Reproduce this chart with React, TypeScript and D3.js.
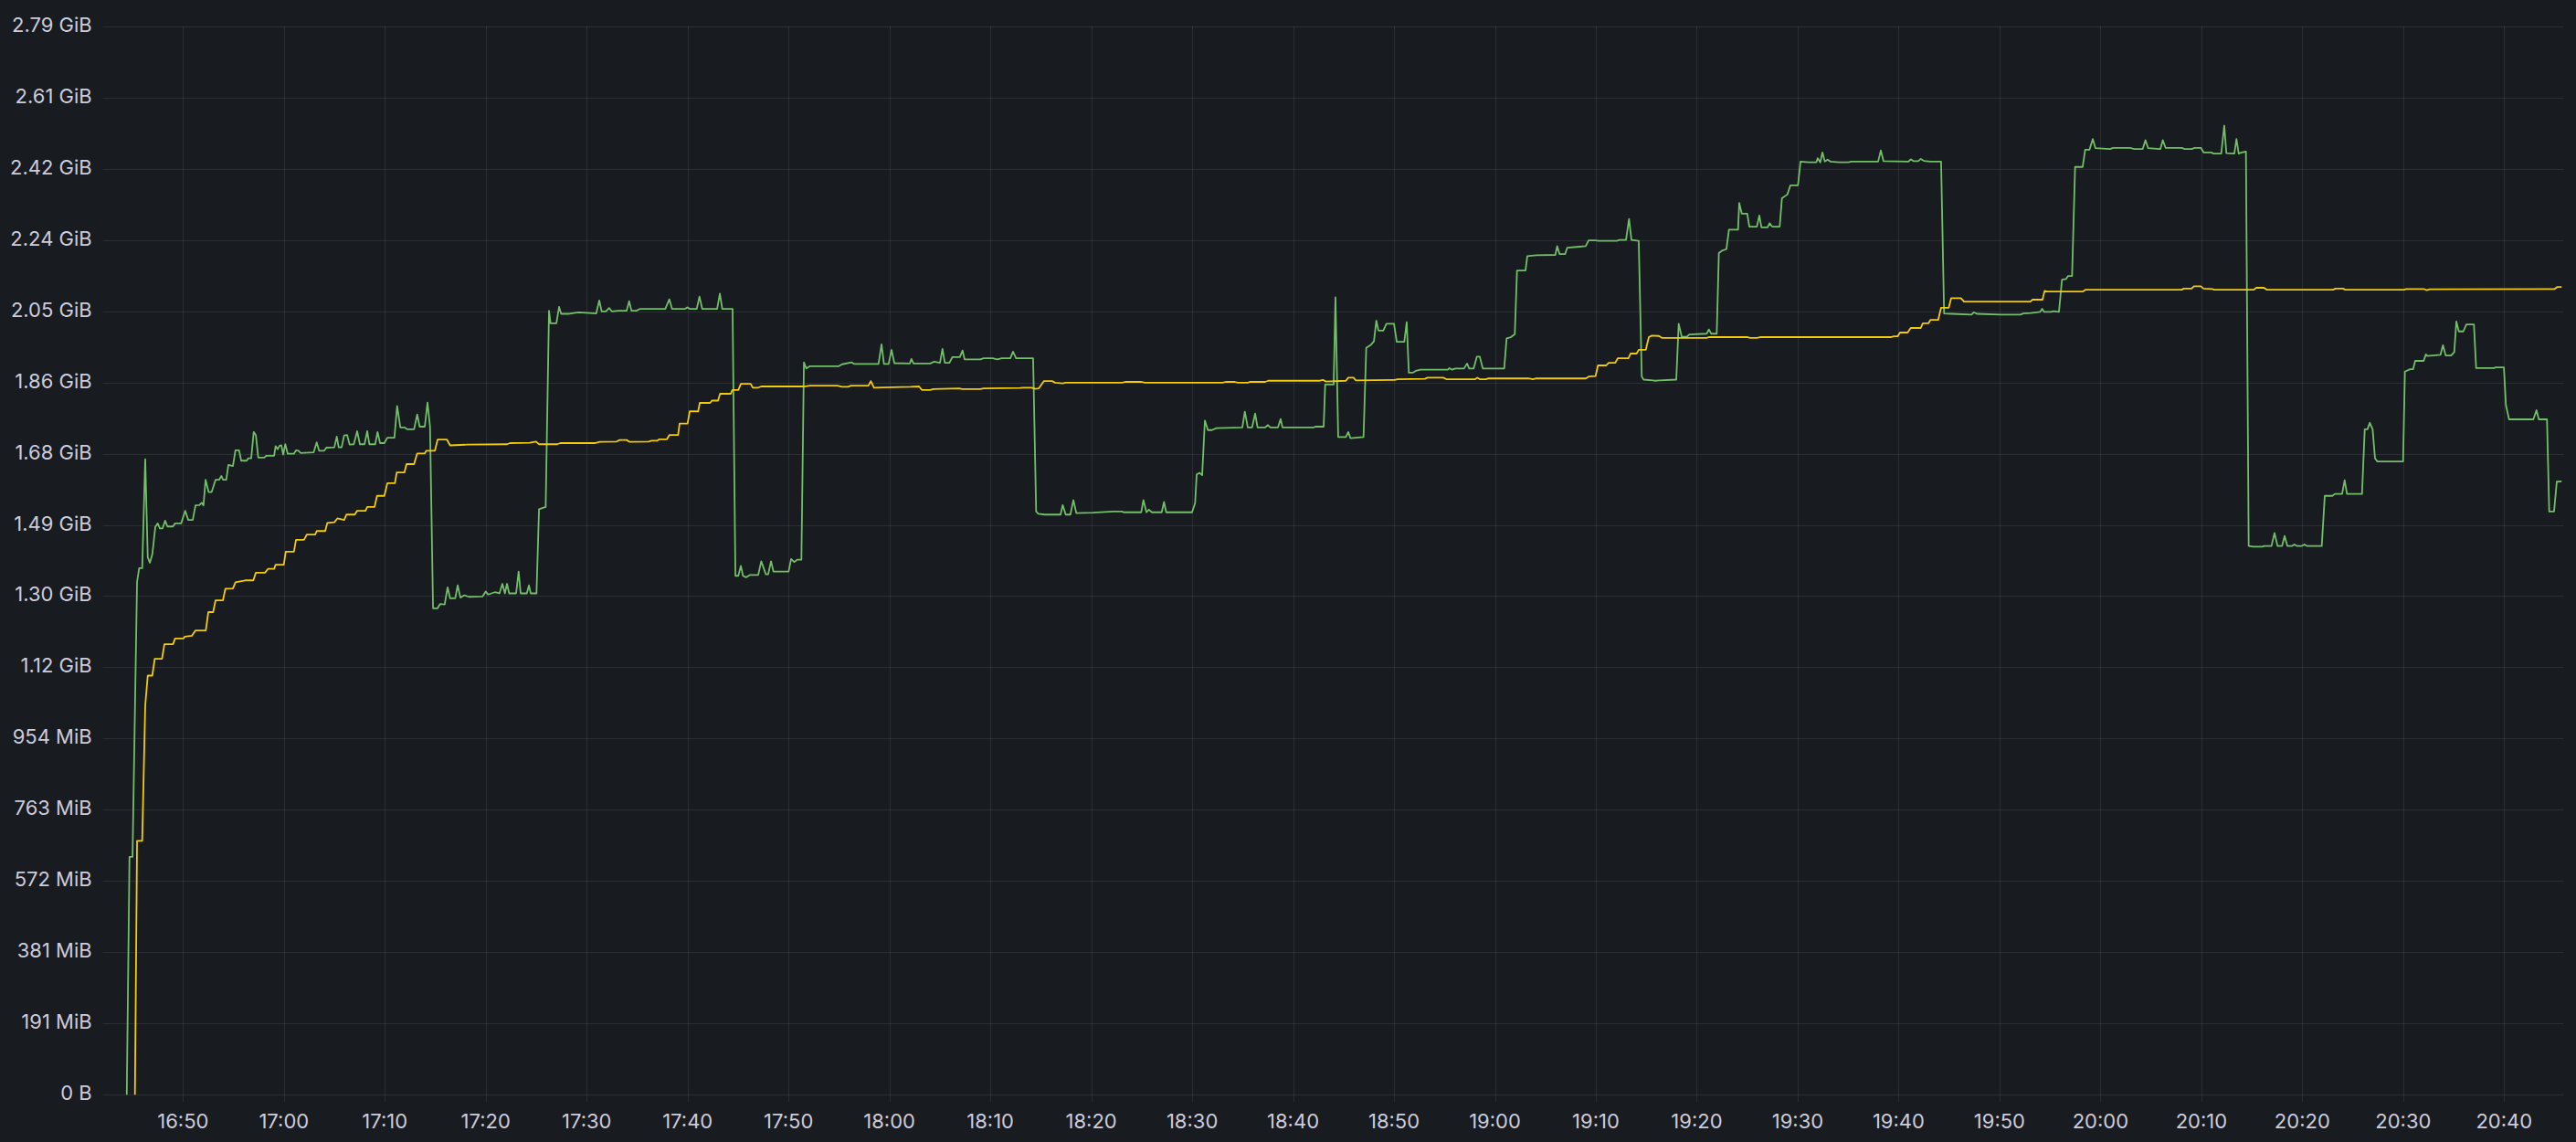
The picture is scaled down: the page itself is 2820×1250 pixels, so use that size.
import React, { useEffect, useRef } from 'react';
import * as d3 from 'd3';

// memory usage panel, two series, 16:42 -> 20:46
// all times are minutes after 16:40, all values in GiB
const GIB = 1073741824;
const BASE_HOUR = 16;
const BASE_MIN = 40;

const timeRange = [2.07, 245.92];

const xTickLabels = [
    "16:50", "17:00", "17:10", "17:20", "17:30", "17:40", "17:50", "18:00",
    "18:10", "18:20", "18:30", "18:40", "18:50", "19:00", "19:10", "19:20",
    "19:30", "19:40", "19:50", "20:00", "20:10", "20:20", "20:30", "20:40",
];

// one tick every 200 MB, labelled in binary units
const yTickStep = 2e8;
const yTickLabels = [
    "0 B", "191 MiB", "381 MiB", "572 MiB", "763 MiB", "954 MiB", "1.12 GiB", "1.30 GiB",
    "1.49 GiB", "1.68 GiB", "1.86 GiB", "2.05 GiB", "2.24 GiB", "2.42 GiB", "2.61 GiB", "2.79 GiB",
];

const greenSeries: [number, number][] = [
    [4.43, 0], [4.70, 0.622], [5.00, 0.622], [5.45, 1.341], [5.66, 1.377], [5.96, 1.377], [6.26, 1.662], [6.51, 1.405],
    [6.72, 1.391], [6.96, 1.413], [7.26, 1.485], [7.50, 1.494], [7.71, 1.481], [7.98, 1.481], [8.23, 1.501], [8.46, 1.486],
    [9.01, 1.486], [9.22, 1.494], [9.82, 1.494], [10.22, 1.527], [10.52, 1.503], [10.97, 1.503], [11.24, 1.541], [11.63, 1.542],
    [11.85, 1.548], [12.03, 1.541], [12.24, 1.608], [12.54, 1.576], [12.84, 1.576], [13.23, 1.608], [13.60, 1.608], [13.80, 1.618],
    [13.98, 1.608], [14.29, 1.608], [14.50, 1.647], [14.95, 1.644], [15.20, 1.685], [15.56, 1.685], [15.77, 1.658], [16.31, 1.658],
    [16.46, 1.664], [16.76, 1.664], [17.01, 1.733], [17.22, 1.725], [17.46, 1.666], [18.06, 1.666], [18.27, 1.671], [19.03, 1.671],
    [19.18, 1.696], [19.39, 1.688], [19.57, 1.697], [19.75, 1.698], [19.93, 1.674], [20.14, 1.701], [20.38, 1.676], [20.99, 1.676],
    [21.20, 1.685], [21.44, 1.684], [21.68, 1.678], [22.95, 1.680], [23.25, 1.706], [23.49, 1.684], [24.00, 1.684], [24.21, 1.692],
    [25.00, 1.693], [25.24, 1.721], [25.43, 1.693], [25.72, 1.693], [25.97, 1.724], [26.27, 1.725], [26.51, 1.700], [26.93, 1.701],
    [27.26, 1.735], [27.53, 1.701], [27.99, 1.701], [28.26, 1.735], [28.47, 1.701], [29.05, 1.701], [29.28, 1.733], [29.53, 1.704],
    [29.95, 1.704], [30.25, 1.718], [30.95, 1.718], [31.22, 1.801], [31.54, 1.745], [31.94, 1.745], [32.24, 1.740], [32.90, 1.740],
    [33.21, 1.779], [33.45, 1.747], [33.96, 1.747], [34.23, 1.810], [34.48, 1.747], [34.78, 1.272], [35.23, 1.272], [35.47, 1.283],
    [35.93, 1.282], [36.22, 1.327], [36.47, 1.298], [36.98, 1.298], [37.22, 1.332], [37.49, 1.300], [37.88, 1.306], [38.33, 1.302],
    [39.69, 1.303], [40.00, 1.316], [40.23, 1.308], [40.90, 1.314], [41.36, 1.311], [41.65, 1.336], [41.90, 1.311], [42.11, 1.336],
    [42.32, 1.311], [43.01, 1.311], [43.26, 1.368], [43.46, 1.311], [44.07, 1.311], [44.28, 1.332], [44.46, 1.311], [45.03, 1.311],
    [45.28, 1.531], [45.94, 1.537], [46.27, 2.050], [46.42, 2.017], [47.00, 2.017], [47.27, 2.060], [47.47, 2.042], [48.29, 2.042],
    [49.19, 2.046], [50.95, 2.043], [51.25, 2.077], [51.49, 2.048], [51.91, 2.048], [52.22, 2.057], [52.52, 2.048], [53.12, 2.050],
    [53.96, 2.050], [54.21, 2.075], [54.44, 2.050], [54.93, 2.050], [55.30, 2.055], [57.79, 2.055], [58.19, 2.080], [58.46, 2.055],
    [59.76, 2.055], [60.00, 2.059], [60.21, 2.055], [60.91, 2.055], [61.18, 2.087], [61.45, 2.055], [62.93, 2.055], [63.20, 2.095],
    [63.44, 2.055], [64.46, 2.055], [64.74, 1.357], [65.03, 1.357], [65.28, 1.383], [65.49, 1.357], [65.79, 1.353], [66.16, 1.359],
    [67.00, 1.359], [67.30, 1.395], [67.75, 1.361], [67.99, 1.361], [68.27, 1.395], [68.51, 1.368], [70.01, 1.368], [70.26, 1.401],
    [70.56, 1.393], [70.86, 1.399], [71.28, 1.399], [71.53, 1.915], [71.77, 1.899], [72.13, 1.905], [74.99, 1.905], [75.30, 1.910],
    [76.26, 1.915], [76.50, 1.911], [78.92, 1.911], [79.22, 1.962], [79.46, 1.911], [79.92, 1.911], [80.21, 1.948], [80.49, 1.913],
    [82.02, 1.912], [82.18, 1.924], [82.39, 1.912], [84.04, 1.912], [84.44, 1.917], [85.01, 1.914], [85.26, 1.950], [85.49, 1.914],
    [85.94, 1.914], [86.25, 1.929], [86.98, 1.929], [87.25, 1.946], [87.45, 1.923], [89.02, 1.923], [89.33, 1.926], [90.23, 1.926],
    [90.69, 1.923], [91.14, 1.926], [91.98, 1.926], [92.25, 1.943], [92.55, 1.926], [94.24, 1.926], [94.54, 1.525], [94.76, 1.519],
    [95.36, 1.517], [96.96, 1.517], [97.17, 1.542], [97.47, 1.517], [97.93, 1.517], [98.23, 1.555], [98.52, 1.521], [100.19, 1.522],
    [102.15, 1.525], [103.05, 1.525], [103.20, 1.523], [104.95, 1.523], [105.17, 1.555], [105.47, 1.523], [105.71, 1.530], [106.01, 1.523],
    [106.98, 1.523], [107.21, 1.550], [107.43, 1.523], [109.99, 1.523], [110.29, 1.547], [110.45, 1.622], [110.74, 1.626], [110.99, 1.620],
    [111.26, 1.763], [111.56, 1.738], [111.96, 1.738], [112.41, 1.743], [114.97, 1.745], [115.22, 1.786], [115.51, 1.745], [115.94, 1.745],
    [116.24, 1.781], [116.48, 1.745], [117.23, 1.745], [117.51, 1.751], [117.75, 1.745], [118.50, 1.745], [118.77, 1.767], [118.95, 1.745],
    [122.06, 1.745], [122.21, 1.747], [123.03, 1.747], [123.18, 1.857], [124.02, 1.857], [124.20, 2.085], [124.47, 1.720], [125.23, 1.720],
    [125.47, 1.733], [125.68, 1.717], [126.98, 1.720], [127.25, 1.953], [127.71, 1.961], [128.01, 1.970], [128.25, 2.024], [128.46, 1.998],
    [128.94, 1.998], [129.25, 2.016], [130.00, 2.016], [130.27, 1.969], [131.02, 1.969], [131.26, 2.020], [131.47, 1.888], [131.87, 1.888],
    [132.17, 1.893], [132.62, 1.896], [135.34, 1.896], [135.49, 1.900], [135.73, 1.896], [136.09, 1.899], [136.94, 1.899], [137.24, 1.912],
    [137.45, 1.899], [137.90, 1.899], [138.21, 1.930], [138.50, 1.930], [138.80, 1.899], [140.92, 1.899], [141.16, 1.978], [141.58, 1.981],
    [141.97, 1.989], [142.19, 2.155], [143.03, 2.155], [143.21, 2.193], [144.09, 2.195], [145.99, 2.196], [146.17, 2.219], [146.41, 2.198],
    [146.95, 2.198], [147.17, 2.215], [148.16, 2.217], [149.00, 2.219], [149.28, 2.234], [149.97, 2.234], [150.27, 2.233], [152.08, 2.233],
    [152.33, 2.235], [152.99, 2.235], [153.29, 2.290], [153.53, 2.235], [154.25, 2.233], [154.55, 1.878], [154.73, 1.870], [155.64, 1.868],
    [155.86, 1.867], [156.31, 1.868], [157.97, 1.870], [158.21, 2.016], [158.51, 1.982], [159.02, 1.982], [159.26, 1.988], [160.98, 1.990],
    [161.20, 2.001], [161.43, 1.990], [161.98, 1.990], [162.19, 2.201], [162.49, 2.207], [162.94, 2.211], [163.19, 2.262], [164.09, 2.262],
    [164.21, 2.332], [164.46, 2.304], [165.00, 2.304], [165.21, 2.270], [165.96, 2.270], [166.20, 2.299], [166.41, 2.268], [167.02, 2.268],
    [167.22, 2.279], [167.47, 2.270], [168.22, 2.270], [168.44, 2.344], [168.98, 2.354], [169.28, 2.378], [170.03, 2.378], [170.28, 2.440],
    [171.09, 2.438], [171.84, 2.438], [171.99, 2.449], [172.24, 2.438], [172.45, 2.464], [172.69, 2.440], [172.96, 2.445], [173.26, 2.440],
    [174.10, 2.438], [175.01, 2.438], [175.32, 2.440], [177.97, 2.440], [178.24, 2.469], [178.51, 2.441], [180.98, 2.440], [181.20, 2.446],
    [181.50, 2.441], [181.95, 2.441], [182.20, 2.447], [182.50, 2.442], [183.15, 2.440], [184.21, 2.440], [184.51, 2.043], [185.27, 2.042],
    [187.23, 2.040], [187.45, 2.046], [187.75, 2.042], [190.10, 2.040], [191.30, 2.040], [192.06, 2.040], [192.36, 2.043], [193.11, 2.044],
    [194.02, 2.047], [194.23, 2.055], [194.41, 2.047], [195.08, 2.047], [195.37, 2.049], [195.89, 2.047], [196.19, 2.131], [196.59, 2.133],
    [196.80, 2.141], [197.19, 2.141], [197.49, 2.426], [198.24, 2.426], [198.49, 2.471], [198.91, 2.471], [199.24, 2.499], [199.51, 2.475],
    [200.96, 2.473], [201.26, 2.476], [202.92, 2.476], [203.38, 2.473], [204.19, 2.473], [204.46, 2.496], [204.73, 2.475], [205.94, 2.473],
    [206.18, 2.496], [206.45, 2.476], [208.05, 2.476], [208.35, 2.473], [209.04, 2.473], [209.35, 2.476], [209.95, 2.476], [210.22, 2.464],
    [210.98, 2.464], [211.21, 2.461], [211.97, 2.461], [212.27, 2.534], [212.48, 2.462], [213.27, 2.461], [213.48, 2.499], [213.70, 2.461],
    [213.99, 2.464], [214.42, 2.466], [214.69, 1.435], [215.14, 1.433], [216.05, 1.433], [216.19, 1.435], [216.95, 1.435], [217.25, 1.469],
    [217.55, 1.435], [218.00, 1.435], [218.25, 1.461], [218.52, 1.435], [219.00, 1.435], [219.22, 1.439], [219.45, 1.435], [219.97, 1.435],
    [220.21, 1.439], [220.45, 1.435], [221.93, 1.435], [222.23, 1.566], [222.98, 1.566], [223.23, 1.571], [223.95, 1.571], [224.20, 1.607],
    [224.43, 1.571], [225.92, 1.571], [226.19, 1.740], [226.46, 1.740], [226.69, 1.757], [226.97, 1.740], [227.21, 1.664], [227.45, 1.656],
    [229.99, 1.656], [230.17, 1.891], [230.68, 1.897], [230.98, 1.897], [231.19, 1.919], [232.03, 1.919], [232.25, 1.936], [232.40, 1.932],
    [233.70, 1.935], [233.94, 1.960], [234.21, 1.933], [234.75, 1.933], [235.06, 1.942], [235.27, 2.022], [235.51, 1.996], [235.96, 1.996],
    [236.26, 2.014], [237.01, 2.014], [237.23, 1.900], [238.98, 1.900], [239.18, 1.902], [239.98, 1.902], [240.18, 1.803], [240.49, 1.766],
    [242.90, 1.766], [243.21, 1.790], [243.44, 1.766], [244.25, 1.766], [244.47, 1.525], [244.95, 1.525], [245.22, 1.603], [245.70, 1.604],
];

const yellowSeries: [number, number][] = [
    [5.24, 0], [5.45, 0.664], [5.96, 0.664], [6.26, 1.018], [6.51, 1.096], [6.96, 1.096], [7.20, 1.140], [7.92, 1.140],
    [8.16, 1.178], [9.01, 1.178], [9.22, 1.193], [10.04, 1.193], [10.18, 1.198], [10.88, 1.200], [11.24, 1.214], [12.26, 1.214],
    [12.51, 1.262], [12.99, 1.262], [13.23, 1.293], [13.96, 1.293], [14.20, 1.323], [14.95, 1.324], [15.20, 1.340], [15.56, 1.342],
    [16.16, 1.345], [16.97, 1.345], [17.22, 1.365], [18.12, 1.365], [18.42, 1.375], [19.03, 1.375], [19.18, 1.386], [19.99, 1.386],
    [20.18, 1.420], [20.99, 1.420], [21.20, 1.451], [21.99, 1.451], [22.28, 1.465], [23.10, 1.465], [23.25, 1.474], [24.09, 1.474],
    [24.30, 1.495], [25.00, 1.497], [25.30, 1.507], [25.97, 1.503], [26.20, 1.517], [27.02, 1.517], [27.26, 1.527], [28.08, 1.527],
    [28.26, 1.537], [28.98, 1.537], [29.23, 1.566], [29.95, 1.566], [30.25, 1.599], [31.00, 1.599], [31.18, 1.627], [31.94, 1.627],
    [32.15, 1.649], [32.90, 1.649], [33.21, 1.677], [33.96, 1.677], [34.11, 1.684], [34.96, 1.684], [35.23, 1.713], [36.16, 1.713],
    [36.47, 1.698], [38.19, 1.700], [42.11, 1.701], [42.41, 1.704], [44.37, 1.705], [44.98, 1.708], [45.28, 1.701], [47.09, 1.701],
    [47.38, 1.704], [50.86, 1.704], [51.31, 1.707], [52.97, 1.708], [53.27, 1.712], [53.96, 1.712], [54.26, 1.707], [56.14, 1.708],
    [56.44, 1.710], [56.98, 1.710], [57.20, 1.714], [57.95, 1.714], [58.19, 1.725], [59.06, 1.725], [59.21, 1.755], [60.00, 1.755],
    [60.21, 1.787], [61.05, 1.787], [61.21, 1.809], [62.23, 1.809], [62.41, 1.815], [63.02, 1.815], [63.22, 1.833], [64.28, 1.833],
    [64.44, 1.843], [65.03, 1.843], [65.28, 1.859], [66.25, 1.859], [66.46, 1.849], [67.00, 1.849], [67.30, 1.852], [71.53, 1.852],
    [72.13, 1.854], [74.85, 1.854], [75.30, 1.851], [75.90, 1.851], [76.20, 1.854], [77.92, 1.854], [78.16, 1.866], [78.47, 1.849],
    [82.09, 1.851], [82.93, 1.852], [83.23, 1.843], [84.04, 1.843], [84.35, 1.845], [86.91, 1.847], [87.21, 1.845], [89.02, 1.845],
    [89.33, 1.847], [92.95, 1.848], [93.25, 1.849], [94.09, 1.849], [94.45, 1.846], [94.81, 1.847], [95.30, 1.866], [96.12, 1.866],
    [96.42, 1.862], [97.17, 1.860], [97.47, 1.862], [103.05, 1.862], [103.36, 1.864], [105.01, 1.864], [105.31, 1.862], [113.01, 1.862],
    [113.32, 1.864], [114.22, 1.864], [114.52, 1.862], [115.51, 1.862], [115.72, 1.864], [117.23, 1.864], [117.53, 1.867], [122.66, 1.867],
    [122.96, 1.869], [123.27, 1.865], [125.23, 1.867], [125.47, 1.875], [125.99, 1.875], [126.22, 1.868], [130.06, 1.869], [130.36, 1.871],
    [133.07, 1.872], [133.32, 1.875], [134.88, 1.875], [135.18, 1.871], [138.05, 1.871], [138.26, 1.875], [138.50, 1.871], [139.11, 1.871],
    [139.35, 1.873], [143.33, 1.873], [143.78, 1.871], [144.09, 1.873], [149.00, 1.873], [149.30, 1.878], [149.97, 1.879], [150.21, 1.907],
    [151.02, 1.907], [151.27, 1.914], [151.93, 1.914], [152.17, 1.926], [153.23, 1.926], [153.44, 1.938], [154.04, 1.938], [154.25, 1.948],
    [154.95, 1.948], [155.25, 1.981], [155.55, 1.985], [156.25, 1.984], [156.54, 1.979], [160.98, 1.979], [161.20, 1.981], [165.05, 1.981],
    [165.30, 1.979], [165.96, 1.979], [166.27, 1.981], [179.24, 1.981], [179.53, 1.983], [179.90, 1.983], [180.14, 1.993], [180.89, 1.993],
    [181.20, 2.005], [182.20, 2.005], [182.40, 2.017], [182.95, 2.017], [183.15, 2.026], [183.92, 2.026], [184.21, 2.058], [184.97, 2.058],
    [185.21, 2.083], [186.18, 2.083], [186.48, 2.074], [193.06, 2.074], [193.27, 2.079], [194.26, 2.079], [194.47, 2.102], [194.69, 2.100],
    [198.24, 2.100], [198.54, 2.105], [208.05, 2.105], [208.26, 2.108], [209.04, 2.108], [209.26, 2.114], [209.95, 2.114], [210.22, 2.108],
    [211.07, 2.107], [211.28, 2.105], [215.20, 2.105], [215.44, 2.110], [216.19, 2.110], [216.50, 2.105], [223.05, 2.105], [223.29, 2.108],
    [224.04, 2.108], [224.25, 2.105], [230.08, 2.105], [230.31, 2.107], [232.03, 2.107], [232.34, 2.104], [232.64, 2.106], [245.01, 2.107],
    [245.25, 2.112], [245.70, 2.112],
];

const WIDTH = 2820;
const HEIGHT = 1250;
const margin = { top: 28.7, right: 13.3, bottom: 51.7, left: 112.7 };

const toDate = (minutes: number) => new Date(2024, 0, 1, BASE_HOUR, BASE_MIN, 0, 0).getTime() + minutes * 60000;
const labelToMinutes = (label: string) => {
    const [h, m] = label.split(':').map(Number);
    return (h - BASE_HOUR) * 60 + (m - BASE_MIN);
};

const App = () => {
    const svgRef = useRef<SVGSVGElement>(null);

    useEffect(() => {
        const svg = d3.select(svgRef.current);
        svg.selectAll('*').remove();

        const x = d3.scaleTime()
            .domain(timeRange.map(toDate))
            .range([margin.left, WIDTH - margin.right]);
        const y = d3.scaleLinear()
            .domain([0, yTickStep * (yTickLabels.length - 1)])
            .range([HEIGHT - margin.bottom, margin.top]);

        svg.append('rect')
            .attr('width', WIDTH)
            .attr('height', HEIGHT)
            .attr('fill', '#181b1f');

        const grid = svg.append('g')
            .attr('stroke', 'rgba(204, 204, 220, 0.11)')
            .attr('stroke-width', 1);

        // horizontal grid
        grid.selectAll('.hgrid')
            .data(yTickLabels)
            .enter()
            .append('line')
            .attr('x1', margin.left)
            .attr('x2', WIDTH - margin.right)
            .attr('y1', (_, i) => Math.round(y(i * yTickStep)) + 0.5)
            .attr('y2', (_, i) => Math.round(y(i * yTickStep)) + 0.5);

        // vertical grid, runs a little below the zero line as a tick
        grid.selectAll('.vgrid')
            .data(xTickLabels)
            .enter()
            .append('line')
            .attr('x1', (d) => Math.round(x(toDate(labelToMinutes(d)))) + 0.5)
            .attr('x2', (d) => Math.round(x(toDate(labelToMinutes(d)))) + 0.5)
            .attr('y1', margin.top)
            .attr('y2', HEIGHT - margin.bottom + 8);

        const labels = svg.append('g')
            .attr('fill', '#ccccdc')
            .attr('font-family', 'Inter, Roboto, sans-serif')
            .attr('font-size', 22);

        labels.selectAll('.ylabel')
            .data(yTickLabels)
            .enter()
            .append('text')
            .attr('text-anchor', 'end')
            .attr('x', margin.left - 12)
            .attr('y', (_, i) => y(i * yTickStep) + 6)
            .text((d) => d);

        labels.selectAll('.xlabel')
            .data(xTickLabels)
            .enter()
            .append('text')
            .attr('text-anchor', 'middle')
            .attr('x', (d) => x(toDate(labelToMinutes(d))))
            .attr('y', HEIGHT - 15.5)
            .text((d) => d);

        const line = d3.line<[number, number]>()
            .x((d) => x(toDate(d[0])))
            .y((d) => y(d[1] * GIB));

        const series = [
            { data: greenSeries, color: '#73bf69' },
            { data: yellowSeries, color: '#f2cc0c' },
        ];

        svg.append('g')
            .selectAll('path')
            .data(series)
            .enter()
            .append('path')
            .attr('d', (s) => line(s.data))
            .attr('fill', 'none')
            .attr('stroke', (s) => s.color)
            .attr('stroke-width', 1.8)
            .attr('stroke-linejoin', 'round');
    }, []);

    return (
        <svg
            ref={svgRef}
            width={WIDTH}
            height={HEIGHT}
            style={{ position: 'absolute', left: 0, top: 0, display: 'block' }}
        ></svg>
    );
};

export default App;
